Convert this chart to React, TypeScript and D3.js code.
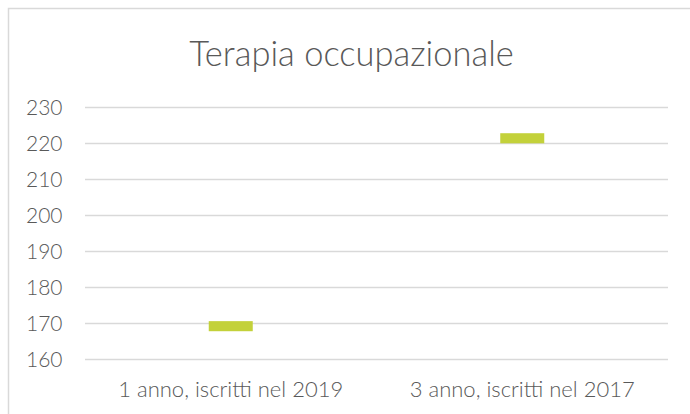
import React from "react";
import * as d3 from "d3";

const title = "Terapia occupazionale";
const categories = ["1 anno, iscritti nel 2019", "3 anno, iscritti nel 2017"];
const lowValues = [167.8, 220.0];
const highValues = [170.6, 222.8];
const yTicks = [160, 170, 180, 190, 200, 210, 220, 230];

const W = 690;
const H = 414;
const FONT = "Lato, 'Open Sans', sans-serif";
const TEXT = "#595959";
const GRID = "#d9d9d9";
const BAR = "#c3d13a";

export default function App() {
  const x = d3.scaleBand<string>().domain(categories).range([85, 668]);
  const y = d3.scaleLinear().domain([160, 230]).range([359.3, 107.3]);
  const barW = 44;

  return (
    <svg
      width={W}
      height={H}
      style={{ position: "absolute", left: 0, top: 0, background: "#fff" }}
      fontFamily={FONT}
    >
      <rect x={0} y={0} width={W} height={H} fill="#fff" />
      {/* chart border */}
      <rect x={8.5} y={8.5} width={W + 10} height={H + 10} fill="none" stroke={GRID} strokeWidth={1.5} />
      <text x={351.5} y={65.5} textAnchor="middle" fontSize={34.5} fontWeight={300} fill={TEXT}>
        {title}
      </text>
      {yTicks.map((t) => (
        <g key={t}>
          <line x1={85} x2={668} y1={Math.round(y(t)) + 0.5} y2={Math.round(y(t)) + 0.5} stroke={GRID} strokeWidth={1.5} />
          <text x={62.5} y={y(t)} dy="0.35em" textAnchor="end" fontSize={21} fontWeight={300} fill={TEXT}>
            {t}
          </text>
        </g>
      ))}
      {categories.map((c, i) => {
        const cx = (x(c) ?? 0) + x.bandwidth() / 2;
        return (
          <g key={c}>
            <rect
              x={cx - barW / 2}
              y={y(highValues[i])}
              width={barW}
              height={y(lowValues[i]) - y(highValues[i])}
              fill={BAR}
            />
            <text x={cx} y={397} textAnchor="middle" fontSize={22} fontWeight={300} fill={TEXT}>
              {c}
            </text>
          </g>
        );
      })}
    </svg>
  );
}
